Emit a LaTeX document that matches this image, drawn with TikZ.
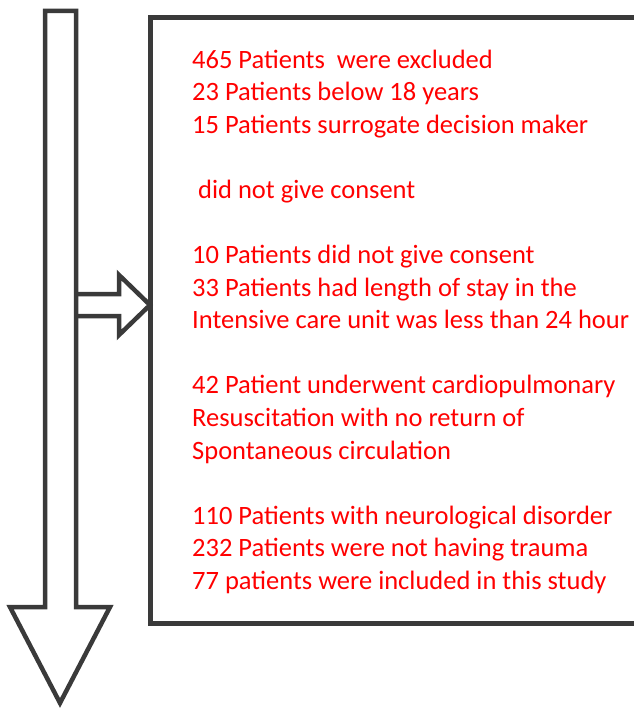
\documentclass[tikz,border=0pt]{standalone}
\usepackage{fontspec}
\setmainfont{Carlito}
\definecolor{edge}{HTML}{3A3A3A}
\definecolor{txt}{HTML}{FF0000}
\begin{document}
\begin{tikzpicture}[x=1pt,y=-1pt,
  outline/.style={draw=edge,line width=4.5pt,line join=miter},
  lbl/.style={anchor=base west,inner sep=0pt,text=txt,font=\fontsize{26.5}{32}\selectfont}]
\useasboundingbox (0,0) rectangle (633,709);
% down arrow
\draw[outline] (45,11) -- (76,11) -- (76,607) -- (110,607) -- (60,703) -- (10,607) -- (45,607) -- cycle;
% right arrow
\draw[outline] (76,294) -- (119,294) -- (119,275) -- (150,305) -- (119,335) -- (119,316) -- (76,316);
% box
\draw[outline] (150.5,17.5) rectangle (700,623.5);
\def\ls{32.56}
\node[lbl] (l0) at (192,68.3) {465 Patients\ \ were excluded};
\node[lbl] (l1) at (192,68.3+\ls) {23 Patients below 18 years};
\node[lbl] (l2) at (192,68.3+2*\ls) {15 Patients surrogate decision maker};
\node[lbl] (l4) at (192,68.3+4*\ls) {\ did not give consent};
\node[lbl] (l6) at (192,68.3+6*\ls) {10 Patients did not give consent};
\node[lbl] (l7) at (192,68.3+7*\ls) {33 Patients had length of stay in the};
\node[lbl] (l8) at (192,68.3+8*\ls) {Intensive care unit was less than 24 hour};
\node[lbl] (l10) at (192,68.3+10*\ls) {42 Patient underwent cardiopulmonary};
\node[lbl] (l11) at (192,68.3+11*\ls) {Resuscitation with no return of};
\node[lbl] (l12) at (192,68.3+12*\ls) {Spontaneous circulation};
\node[lbl] (l14) at (192,68.3+14*\ls) {110 Patients with neurological disorder};
\node[lbl] (l15) at (192,68.3+15*\ls) {232 Patients were not having trauma};
\node[lbl] (l16) at (192,68.3+16*\ls) {77 patients were included in this study};
\end{tikzpicture}
\end{document}
